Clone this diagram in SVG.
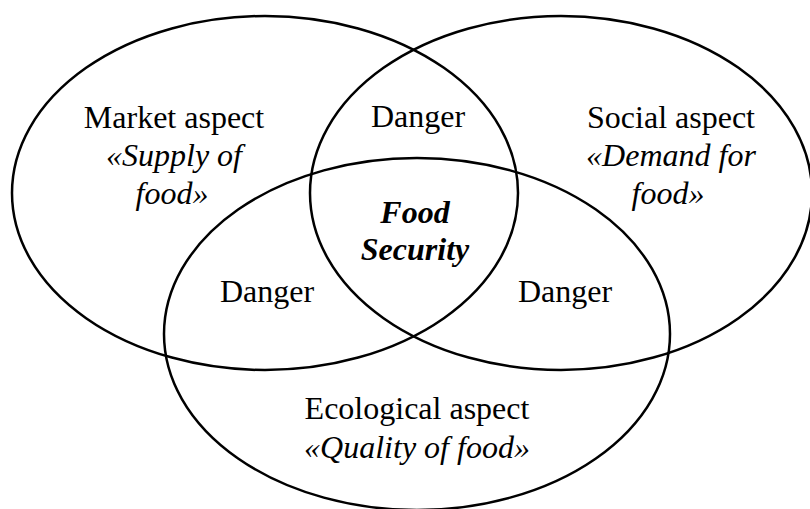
<svg xmlns="http://www.w3.org/2000/svg" width="810" height="509" viewBox="0 0 810 509">
  <style>
    .ring { fill: none; stroke: #000; stroke-width: 2.5; }
    .lbl { font-size: 32px; fill: #000; text-anchor: middle; }
    .it { font-style: italic; }
    .bi { font-style: italic; font-weight: bold; }
  </style>
  <rect width="810" height="509" fill="#fff"/>

  <g font-family="Liberation Serif, DejaVu Serif, serif">
    <g id="market">
      <ellipse class="ring" cx="265" cy="193" rx="253" ry="177"/>
      <text class="lbl" x="174" y="128">Market aspect</text>
      <text class="lbl it" x="174" y="166">«Supply of</text>
      <text class="lbl it" x="172" y="204">food»</text>
    </g>

    <g id="social">
      <ellipse class="ring" cx="561" cy="193" rx="251" ry="177"/>
      <text class="lbl" x="671" y="128">Social aspect</text>
      <text class="lbl it" x="671" y="166">«Demand for</text>
      <text class="lbl it" x="668" y="204">food»</text>
    </g>

    <g id="ecological">
      <ellipse class="ring" cx="417" cy="334" rx="253" ry="176"/>
      <text class="lbl" x="417" y="419">Ecological aspect</text>
      <text class="lbl it" x="417" y="458">«Quality of food»</text>
    </g>

    <g id="danger-top">
      <text class="lbl" x="418" y="127">Danger</text>
    </g>
    <g id="danger-left">
      <text class="lbl" x="267" y="302">Danger</text>
    </g>
    <g id="danger-right">
      <text class="lbl" x="565" y="302">Danger</text>
    </g>

    <g id="food-security">
      <text class="lbl bi" x="415" y="223">Food</text>
      <text class="lbl bi" x="415" y="260">Security</text>
    </g>
  </g>
</svg>
